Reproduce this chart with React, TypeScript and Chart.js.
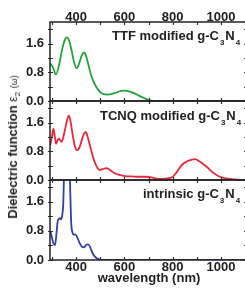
import React, { useEffect, useRef } from "react";
import { Chart, registerables } from "chart.js";
Chart.register(...registerables);

const ttfWavelengths = [293, 305, 317, 330, 345, 355, 362, 370, 380, 392, 402, 412, 424, 434, 442, 452, 464, 478, 492, 505, 515, 530, 545, 565, 585, 600, 620, 640, 660, 686, 706, 730, 800, 900, 1000, 1110];
const ttfValues = [1.05, 0.92, 0.74, 1.02, 1.52, 1.72, 1.77, 1.70, 1.45, 1.08, 0.91, 1.03, 1.28, 1.35, 1.24, 0.98, 0.68, 0.46, 0.31, 0.22, 0.19, 0.18, 0.19, 0.23, 0.28, 0.29, 0.27, 0.22, 0.15, 0.07, 0.02, 0.0, 0.0, 0.0, 0.0, 0.0];

const tcnqWavelengths = [293, 300, 306, 311, 317, 323, 329, 335, 340, 348, 356, 364, 371, 378, 386, 395, 405, 415, 425, 434, 441, 448, 458, 471, 485, 497, 510, 525, 540, 555, 575, 603, 630, 660, 692, 720, 747, 770, 796, 815, 837, 860, 880, 893, 910, 925, 941, 965, 989, 1010, 1038, 1070, 1110];
const tcnqValues = [0.97, 1.20, 1.43, 1.25, 1.01, 1.10, 1.15, 1.10, 1.06, 1.22, 1.46, 1.70, 1.79, 1.60, 1.25, 0.95, 0.83, 0.92, 1.15, 1.30, 1.33, 1.20, 0.95, 0.62, 0.38, 0.28, 0.30, 0.33, 0.28, 0.21, 0.15, 0.11, 0.10, 0.09, 0.09, 0.06, 0.03, 0.04, 0.07, 0.20, 0.41, 0.52, 0.57, 0.58, 0.52, 0.45, 0.37, 0.22, 0.11, 0.06, 0.03, 0.01, 0.0];

const intrinsicWavelengths = [293, 300, 306, 313, 319, 324, 328, 333, 338, 343, 347, 350, 355, 360, 366, 371, 374, 377, 380, 384, 390, 398, 405, 415, 425, 433, 442, 450, 458, 466, 477, 491, 505, 600, 800, 1110];
const intrinsicValues = [0.80, 0.62, 0.46, 0.41, 0.75, 1.07, 1.12, 1.15, 1.12, 1.25, 1.55, 2.30, 3.10, 3.60, 3.70, 3.20, 2.40, 1.60, 1.00, 0.78, 0.70, 0.70, 0.62, 0.46, 0.36, 0.35, 0.42, 0.43, 0.36, 0.22, 0.10, 0.03, 0.0, 0.0, 0.0, 0.0];

const xMin = 292;
const xMax = 1108;
const xTickValues = [300, 400, 500, 600, 700, 800, 900, 1000, 1100];
const xLabelValues = [400, 600, 800, 1000];
const yMin = 0;
const yMax = 2.2;
const yTickValues = [0, 0.4, 0.8, 1.2, 1.6, 2.0];
const yLabelValues = [0, 0.8, 1.6];

const FONT = "'Liberation Sans', Arial, sans-serif";
const TEXT = "#222";
const CW = 250;
const CH = 288;
const LEFT = 50;
const RIGHT = 247;

const framePlugin = {
  id: "frame",
  afterDraw(chart: any) {
    const { ctx, chartArea } = chart;
    const { left, right, top, bottom } = chartArea;
    const xs = chart.scales.x;
    const ys = chart.scales.y;
    ctx.save();
    ctx.strokeStyle = "#333";
    ctx.lineWidth = 1.2;
    ctx.beginPath();
    xTickValues.forEach((v) => {
      const p = Math.round(xs.getPixelForValue(v)) + 0.5;
      ctx.moveTo(p, top);
      ctx.lineTo(p, top + 3);
      ctx.moveTo(p, bottom);
      ctx.lineTo(p, bottom - 3);
    });
    yTickValues.forEach((v) => {
      const p = Math.round(ys.getPixelForValue(v)) + 0.5;
      ctx.moveTo(left - 2, p);
      ctx.lineTo(left + 3, p);
      ctx.moveTo(right, p);
      ctx.lineTo(right - 3, p);
    });
    ctx.stroke();
    ctx.lineWidth = 1.5;
    ctx.strokeStyle = "#222";
    ctx.strokeRect(left, top, right - left, bottom - top);
    ctx.restore();
  },
};

type PanelProps = {
  wavelengths: number[];
  values: number[];
  color: string;
  top: number;
  bottom: number;
  xLabels: "top" | "bottom" | "none";
};

function Panel({ wavelengths, values, color, top, bottom, xLabels }: PanelProps) {
  const ref = useRef<HTMLCanvasElement | null>(null);
  useEffect(() => {
    if (!ref.current) return;
    const tickFont = { family: FONT, size: 13, weight: "bold" as const };
    const axisH = xLabels === "top" ? top : xLabels === "bottom" ? CH - bottom : 0;
    const padTop = xLabels === "top" ? 0 : top;
    const padBottom = xLabels === "bottom" ? 0 : CH - bottom;
    const chart = new Chart(ref.current, {
      type: "line",
      data: {
        datasets: [
          {
            data: wavelengths.map((x, i) => ({ x, y: values[i] })),
            borderColor: color,
            borderWidth: 1.8,
            pointRadius: 0,
            fill: false,
            cubicInterpolationMode: "monotone",
          },
        ],
      },
      options: {
        animation: false,
        responsive: false,
        maintainAspectRatio: false,
        events: [],
        layout: { padding: { left: 0, right: CW - RIGHT, top: padTop, bottom: padBottom } },
        plugins: { legend: { display: false }, tooltip: { enabled: false } },
        scales: {
          x: {
            type: "linear",
            position: xLabels === "top" ? "top" : "bottom",
            min: xMin,
            max: xMax,
            afterFit: (s: any) => {
              s.height = axisH;
            },
            afterBuildTicks: (s: any) => {
              s.ticks = xTickValues.map((v) => ({ value: v }));
            },
            grid: { display: false, drawTicks: false, tickLength: 0 },
            border: { display: false },
            ticks: {
              display: xLabels !== "none",
              autoSkip: false,
              maxRotation: 0,
              padding: xLabels === "top" ? -3 : 0,
              font: tickFont,
              color: TEXT,
              callback: (v: any) => (xLabelValues.includes(Number(v)) ? String(v) : ""),
            },
          },
          y: {
            type: "linear",
            min: yMin,
            max: yMax,
            afterFit: (s: any) => {
              s.width = LEFT;
            },
            afterBuildTicks: (s: any) => {
              s.ticks = yTickValues.map((v) => ({ value: v }));
            },
            grid: { display: false, drawTicks: false, tickLength: 0 },
            border: { display: false },
            ticks: {
              autoSkip: false,
              padding: 6,
              font: tickFont,
              color: TEXT,
              callback: (v: any) => (yLabelValues.includes(Number(v)) ? Number(v).toFixed(1) : ""),
            },
          },
        },
      },
      plugins: [framePlugin],
    });
    return () => chart.destroy();
  }, []);
  return (
    <canvas
      ref={ref}
      width={CW}
      height={CH}
      style={{ position: "absolute", left: 0, top: 0, width: CW, height: CH, display: "block" }}
    />
  );
}

const titleStyle: React.CSSProperties = {
  position: "absolute",
  fontFamily: FONT,
  fontWeight: "bold",
  fontSize: 13,
  lineHeight: "13px",
  color: TEXT,
  whiteSpace: "nowrap",
};
const subStyle: React.CSSProperties = {
  fontSize: 8,
  verticalAlign: -5,
  margin: "0 1px",
  lineHeight: "8px",
};

function PanelTitle({ left, top, prefix }: { left: number; top: number; prefix: string }) {
  return (
    <div style={{ ...titleStyle, left, top }}>
      {prefix}g-C<span style={subStyle}>3</span>N<span style={subStyle}>4</span>
    </div>
  );
}

export default function App() {
  return (
    <div
      style={{
        position: "absolute",
        left: 0,
        top: 0,
        width: 245,
        height: 288,
        overflow: "hidden",
        background: "#fff",
      }}
    >
      <Panel wavelengths={ttfWavelengths} values={ttfValues} color="#22a33c" top={22} bottom={101} xLabels="top" />
      <Panel wavelengths={tcnqWavelengths} values={tcnqValues} color="#e8283a" top={101} bottom={180} xLabels="none" />
      <Panel wavelengths={intrinsicWavelengths} values={intrinsicValues} color="#3340a0" top={180} bottom={260} xLabels="bottom" />
      <PanelTitle left={112} top={29} prefix="TTF modified " />
      <PanelTitle left={100} top={109} prefix="TCNQ modified " />
      <PanelTitle left={143} top={187} prefix="intrinsic " />
      <div style={{ ...titleStyle, left: 149, top: 271, transform: "translateX(-50%)" }}>wavelength (nm)</div>
      <div
        style={{
          ...titleStyle,
          left: 15,
          top: 147,
          transform: "translate(-50%, -50%) rotate(-90deg)",
        }}
      >
        Dielectric function{" "}
        <span style={{ fontWeight: "normal", fontSize: 12 }}>
          ε<span style={{ fontSize: 8, verticalAlign: -3 }}>2</span>
        </span>{" "}
        <span style={{ fontWeight: "normal", fontSize: 9 }}>(ω)</span>
      </div>
    </div>
  );
}
